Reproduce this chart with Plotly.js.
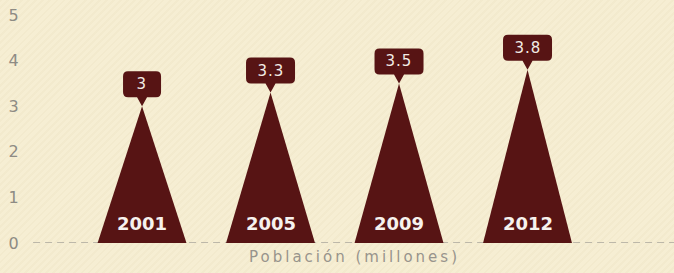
<!DOCTYPE html>
<html>
<head>
<meta charset="utf-8">
<script src="https://cdn.plot.ly/plotly-3.0.1.min.js"></script>
<style>
  html, body { margin: 0; padding: 0; }
  body {
    width: 674px; height: 273px; overflow: hidden;
    background-color: #f6eed3;
    background-image: repeating-linear-gradient(-45deg, rgba(255,255,255,0.0) 0px, rgba(255,255,255,0.0) 3px, rgba(228,216,180,0.18) 3px, rgba(228,216,180,0.18) 5px);
  }
  #chart { width: 674px; height: 273px; }
  .xtitle { letter-spacing: 3px; }
  .annotation[data-index="0"] text, .annotation[data-index="2"] text,
  .annotation[data-index="4"] text, .annotation[data-index="6"] text { letter-spacing: 1px; }
  .annotation[data-index="1"] text, .annotation[data-index="3"] text,
  .annotation[data-index="5"] text, .annotation[data-index="7"] text { letter-spacing: 0px; }
</style>
</head>
<body>
<div id="chart"></div>
<script>
// Data
const years = ['2001', '2005', '2009', '2012'];
const population = [3, 3.3, 3.5, 3.8];
const valueLabels = ['3', '3.3', '3.5', '3.8'];
const yTicks = [0, 1, 2, 3, 4, 5];

const maroon = '#571414';
const halfWidth = 0.346;
const fontFam = 'DejaVu Sans, Verdana, sans-serif';

const traces = years.map((yr, i) => ({
  type: 'scatter',
  mode: 'lines',
  x: [i - halfWidth, i, i + halfWidth, i - halfWidth],
  y: [0, population[i], 0, 0],
  fill: 'toself',
  fillcolor: maroon,
  line: { color: maroon, width: 0 },
  hoverinfo: 'skip',
  showlegend: false
}));

// Rounded callout shapes in pixel units anchored at each apex
function calloutPath(w) {
  const h = 26, r = 5, b = 9, tipW = 5;
  const l = -w / 2, rr = w / 2, bot = b, top = b + h;
  return `M0,0 L${-tipW},${bot} L${l + r},${bot} Q${l},${bot} ${l},${bot + r} ` +
         `L${l},${top - r} Q${l},${top} ${l + r},${top} L${rr - r},${top} Q${rr},${top} ${rr},${top - r} ` +
         `L${rr},${bot + r} Q${rr},${bot} ${rr - r},${bot} L${tipW},${bot} Z`;
}

const shapes = [
  {
    type: 'line', xref: 'paper', yref: 'y', x0: -0.003, x1: 1, y0: 0, y1: 0,
    line: { color: '#aaa69c', width: 1.5, dash: '7px,5px' }, layer: 'below'
  }
].concat(years.map((yr, i) => ({
  type: 'path', xref: 'x', yref: 'y',
  xsizemode: 'pixel', ysizemode: 'pixel',
  xanchor: i, yanchor: population[i],
  path: calloutPath(valueLabels[i].length > 1 ? 49 : 38),
  fillcolor: maroon, line: { width: 0 }
})));

const annotations = [];
years.forEach((yr, i) => {
  annotations.push({
    x: i, y: population[i], xref: 'x', yref: 'y',
    text: valueLabels[i], showarrow: false, yshift: 22,
    font: { family: fontFam, size: 15, color: '#f2ebe4' }
  });
  annotations.push({
    x: i, y: 0, xref: 'x', yref: 'y',
    text: '<b>' + yr + '</b>', showarrow: false, yshift: 20,
    font: { family: fontFam, size: 18, color: '#f7f2ee' }
  });
});

const layout = {
  width: 674, height: 273,
  margin: { l: 35, r: 0, t: 5, b: 30 },
  paper_bgcolor: 'rgba(0,0,0,0)',
  plot_bgcolor: 'rgba(0,0,0,0)',
  showlegend: false,
  xaxis: {
    range: [-0.833, 4.14],
    showgrid: false, zeroline: false, showline: false,
    showticklabels: false, ticks: '',
    fixedrange: true,
    title: {
      text: 'Población (millones)', standoff: 8,
      font: { family: fontFam, size: 15, color: '#98948c' }
    },
    automargin: false
  },
  yaxis: {
    range: [0, 5.22],
    tickvals: yTicks,
    ticktext: yTicks.map(String),
    showgrid: false, zeroline: false, showline: false,
    ticks: 'outside', ticklen: 12, tickcolor: 'rgba(0,0,0,0)',
    tickfont: { family: fontFam, size: 16, color: '#8e8b84' },
    fixedrange: true
  },
  shapes: shapes,
  annotations: annotations,
  font: { family: fontFam }
};

Plotly.newPlot('chart', traces, layout, { displayModeBar: false, staticPlot: true });
</script>
</body>
</html>
